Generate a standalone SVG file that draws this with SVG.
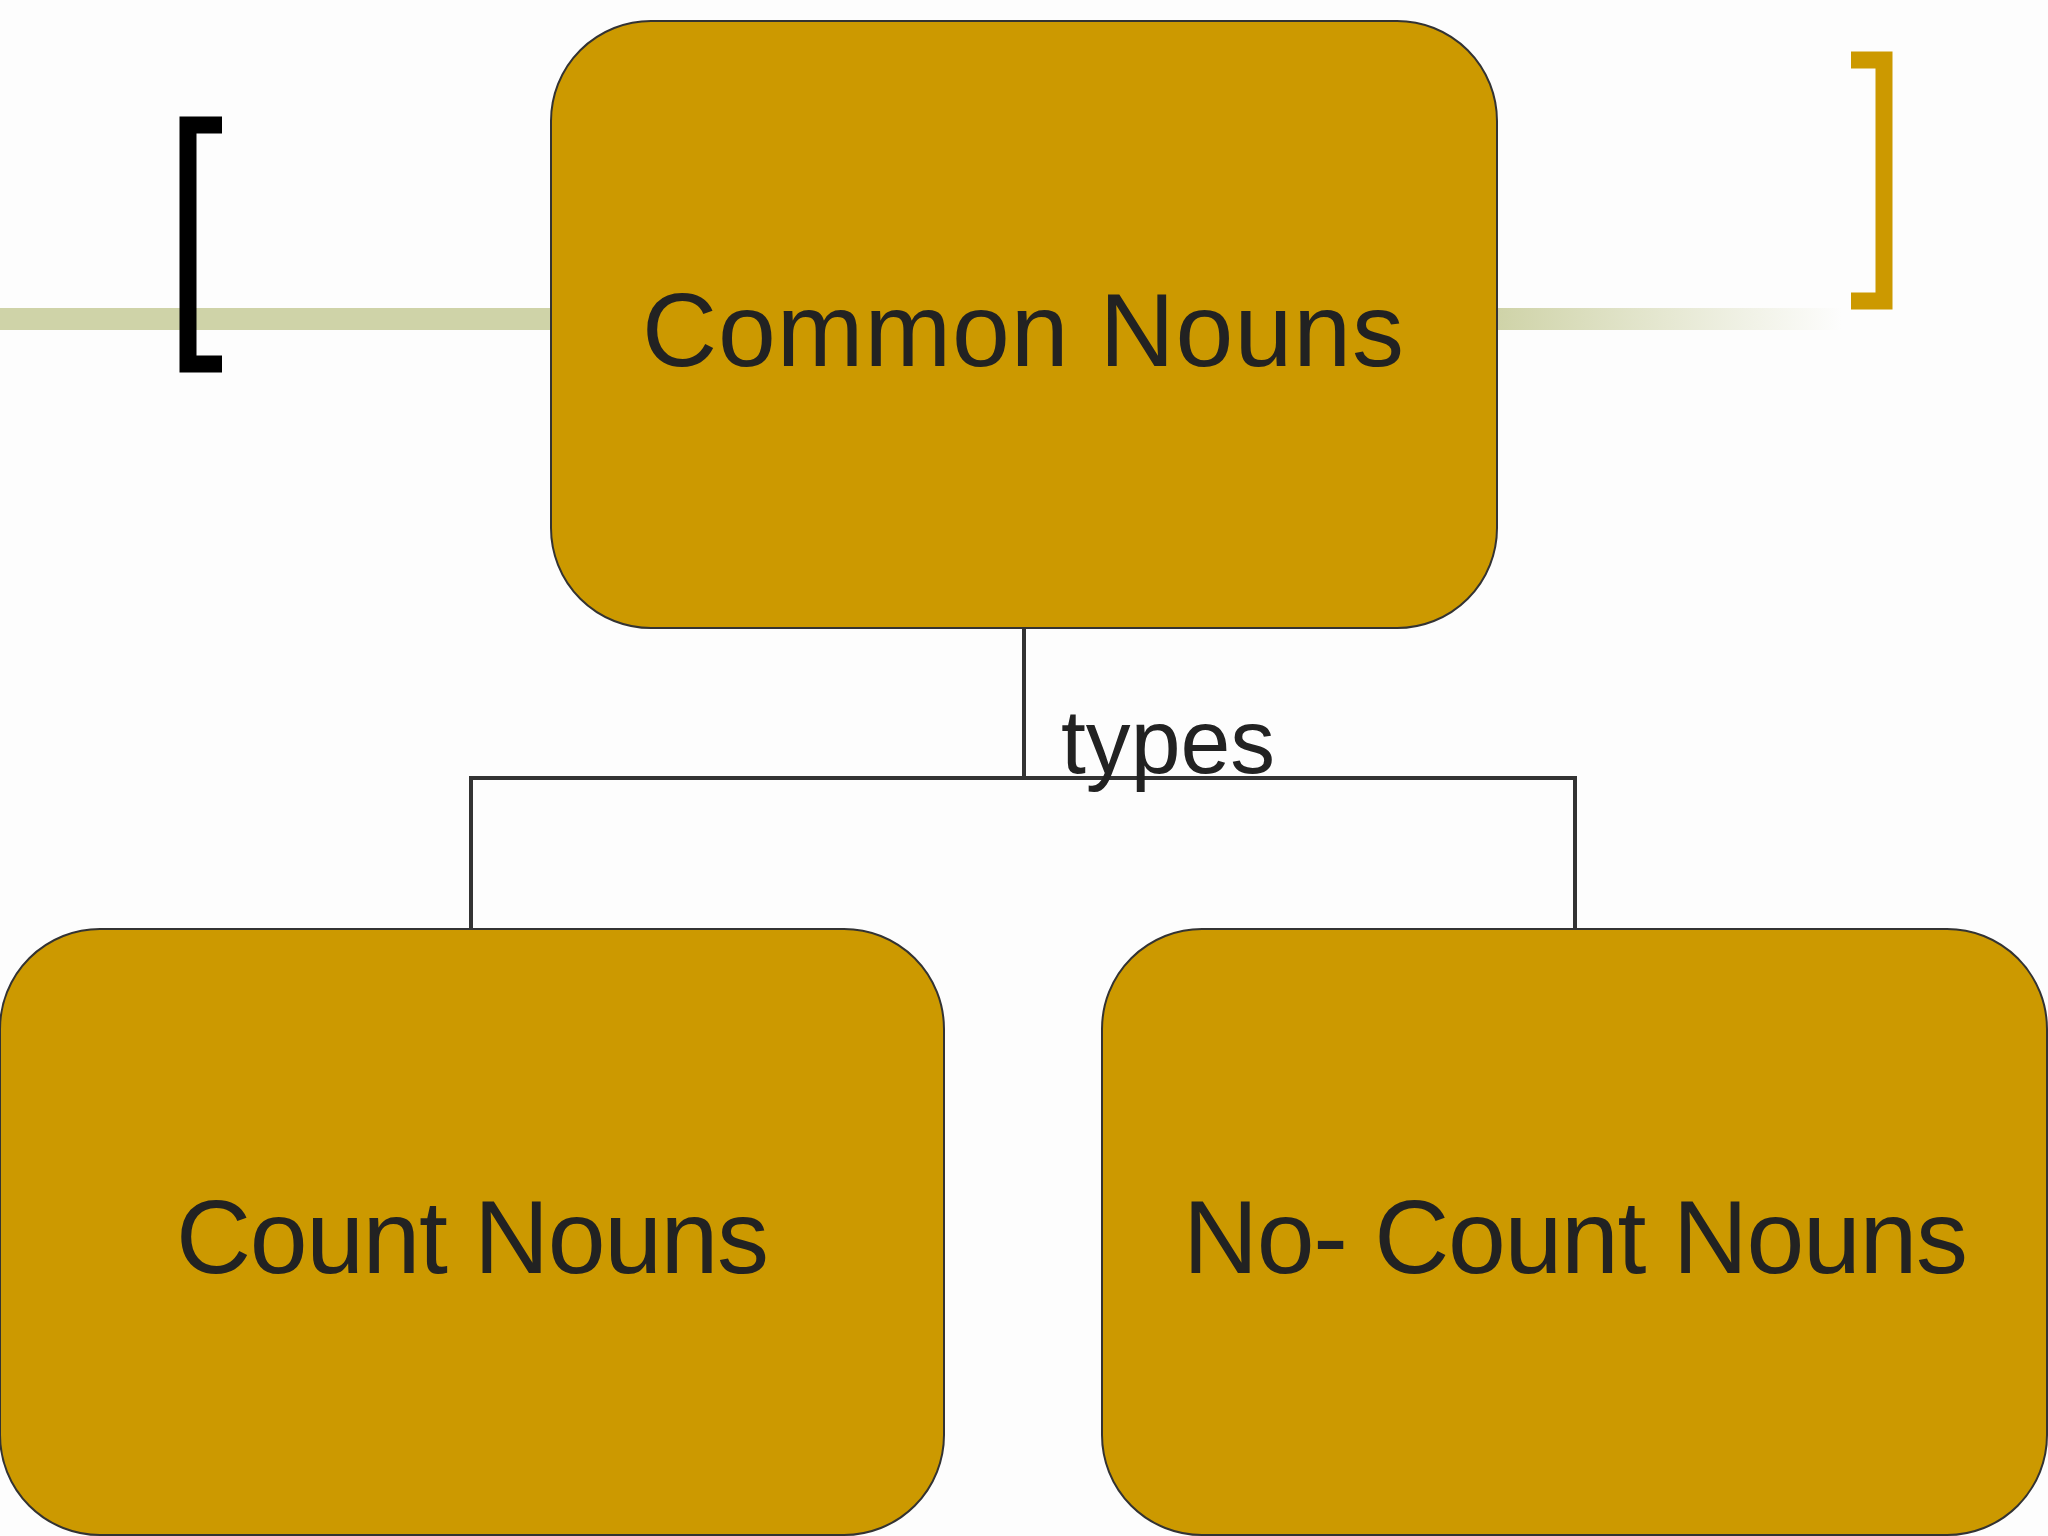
<svg xmlns="http://www.w3.org/2000/svg" width="2048" height="1536" viewBox="0 0 2048 1536">
<defs>
<linearGradient id="fade" x1="0" x2="1" y1="0" y2="0"><stop offset="0" stop-color="#cfd3a8"/><stop offset="1" stop-color="#cfd3a8" stop-opacity="0"/></linearGradient>
<style>
.node{fill:#CC9900;stroke:#333;stroke-width:2}
.lbl{font-family:"Liberation Sans",Arial,sans-serif;fill:#222;text-anchor:start}
.conn{fill:none;stroke:#333;stroke-width:4}
</style>
</defs>
<rect width="2048" height="1536" fill="#fdfdfd"/>
<rect x="0" y="308" width="551" height="22" fill="#cfd3a8"/>
<rect x="1497" y="308" width="345" height="22" fill="url(#fade)"/>
<path d="M222,125 H188 V364 H222" fill="none" stroke="#000" stroke-width="17"/>
<path d="M1851,60 H1884 V301 H1851" fill="none" stroke="#CC9900" stroke-width="17"/>
<g id="connectors">
<path class="conn" d="M1024,628 V778 M471,929 V778 H1575 V929"/>
<text class="lbl" x="1061" y="773" font-size="90" textLength="214" lengthAdjust="spacingAndGlyphs">types</text>
</g>
<g id="n1"><rect class="node" x="551" y="21" width="946" height="607" rx="100"/>
<text class="lbl" x="642" y="366" font-size="104" textLength="762" lengthAdjust="spacing">Common  Nouns</text></g>
<g id="n2"><rect class="node" x="0" y="929" width="944" height="606" rx="100"/>
<text class="lbl" x="176" y="1273" font-size="104" textLength="593" lengthAdjust="spacing">Count Nouns</text></g>
<g id="n3"><rect class="node" x="1102" y="929" width="945" height="606" rx="100"/>
<text class="lbl" x="1183" y="1273" font-size="104" textLength="785" lengthAdjust="spacing">No- Count Nouns</text></g>
</svg>
